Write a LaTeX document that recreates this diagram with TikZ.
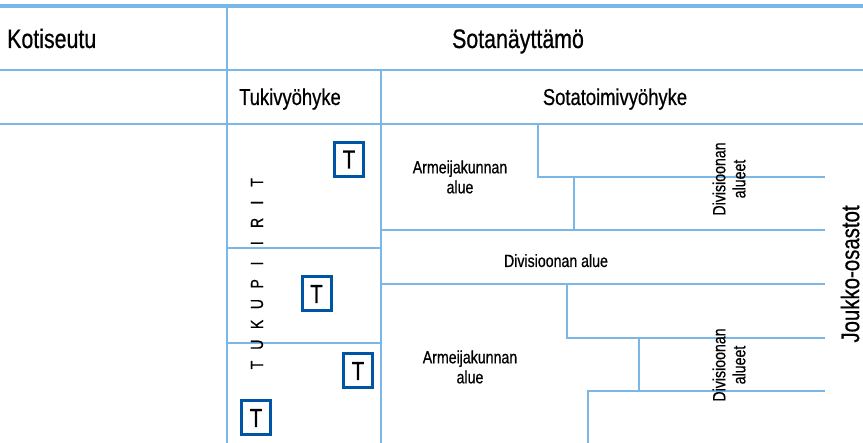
\documentclass[tikz,border=0pt]{standalone}
\usepackage{fontspec}
\setmainfont{Liberation Sans}[FakeStretch=0.8,FakeBold=0.6]
\definecolor{lineblue}{RGB}{122,182,230}
\definecolor{boxblue}{RGB}{0,84,164}
\begin{document}
\begin{tikzpicture}[x=1pt,y=-1pt,
  grid/.style={draw=lineblue,line width=2pt},
  big/.style={font=\fontsize{26.7}{32}\selectfont, inner sep=0pt},
  mid/.style={font=\fontsize{23}{28}\selectfont, inner sep=0pt},
  small/.style={font=\fontsize{17.7}{20}\selectfont, inner sep=0pt, align=center},
  tiny/.style={font=\fontsize{17.5}{20}\selectfont, inner sep=0pt, rotate=90},
  tbox/.style={draw=boxblue, line width=3pt, minimum width=29pt, minimum height=34pt, inner sep=0pt, font=\fontsize{26}{30}\selectfont}]
\fill[white] (0,0) rectangle (863,443);
\useasboundingbox (0,0) rectangle (863,443);
% grid
\draw[draw=lineblue,line width=4pt] (0,6) -- (863,6);
\draw[grid] (227,7) -- (227,443);
\draw[grid] (0,70) -- (863,70);
\draw[grid] (381,70) -- (381,443);
\draw[grid] (0,124) -- (863,124);
\draw[grid] (227,248) -- (381,248);
\draw[grid] (227,343) -- (381,343);
\draw[grid] (538,124) -- (538,177) -- (825,177);
\draw[grid] (574,177) -- (574,230);
\draw[grid] (381,230) -- (825,230);
\draw[grid] (381,284) -- (825,284);
\draw[grid] (567,284) -- (567,338) -- (825,338);
\draw[grid] (639,338) -- (639,391);
\draw[grid] (588,443) -- (588,391) -- (825,391);
% headers
\node[big, anchor=base west] (koti) at (7,48) {Kotiseutu};
\node[big, anchor=base] (sota) at (518,48) {Sotanäyttämö};
\node[mid, anchor=base] (tuki) at (290,105) {Tukivyöhyke};
\node[mid, anchor=base] (toimi) at (615,105) {Sotatoimivyöhyke};
% areas
\node[small] (ak1) at (460,177) {Armeijakunnan\\alue};
\node[small] (ak2) at (470,367) {Armeijakunnan\\alue};
\node[small, anchor=base] (div) at (556,267) {Divisioonan alue};
\node[small, rotate=90] (da1) at (729,179) {Divisioonan\\alueet};
\node[small, rotate=90] (da2) at (729,365) {Divisioonan\\alueet};
\node[big, rotate=90, font=\fontsize{25.5}{30}\selectfont] (joukko) at (850,274) {Joukko-osastot};
% TUKUPIIRIT
\foreach \l [count=\i from 0] in {T,U,K,U,P,I,I,R,I,T}
  \node[tiny] (tp\i) at (257,{365-20.3*\i}) {\l};
% T boxes
\node[tbox] (t1) at (349,159.5) {T};
\node[tbox] (t2) at (316.5,294) {T};
\node[tbox] (t3) at (358,371) {T};
\node[tbox] (t4) at (256,418) {T};
\end{tikzpicture}
\end{document}
